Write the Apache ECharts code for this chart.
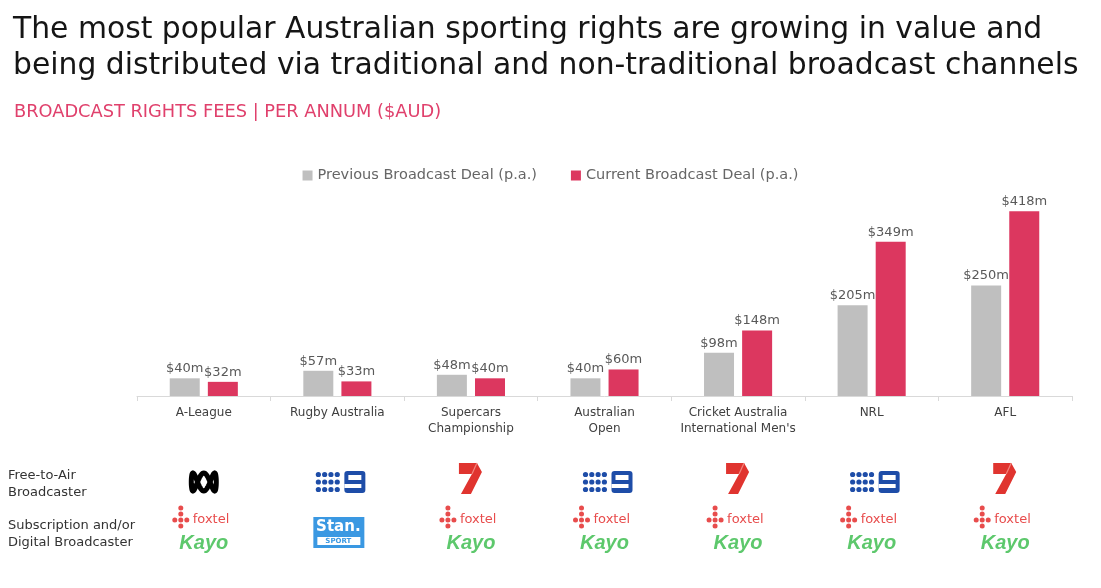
<!DOCTYPE html>
<html><head><meta charset="utf-8">
<script src="https://cdn.jsdelivr.net/npm/echarts@6/dist/echarts.min.js"></script>
<style>html,body{margin:0;padding:0;background:#fff}#c{width:1101px;height:588px}</style>
</head><body><div id="c"></div>
<script>
const titleText = 'The most popular Australian sporting rights are growing in value and\nbeing distributed via traditional and non-traditional broadcast channels';
const subtitleText = 'BROADCAST RIGHTS FEES | PER ANNUM ($AUD)';
const categories = ['A-League', 'Rugby Australia', 'Supercars\nChampionship', 'Australian\nOpen', 'Cricket Australia\nInternational Men\'s', 'NRL', 'AFL'];
const previousDeal = [40, 57, 48, 40, 98, 205, 250];
const currentDeal = [32, 33, 40, 60, 148, 349, 418];
const seriesNames = ['Previous Broadcast Deal (p.a.)', 'Current Broadcast Deal (p.a.)'];
const rowLabels = ['Free-to-Air\nBroadcaster', 'Subscription and/or\nDigital Broadcaster'];
const freeToAir = ['ABC', 'Nine', 'Seven', 'Nine', 'Seven', 'Nine', 'Seven'];
const subscription = ['Foxtel/Kayo', 'Stan Sport', 'Foxtel/Kayo', 'Foxtel/Kayo', 'Foxtel/Kayo', 'Foxtel/Kayo', 'Foxtel/Kayo'];

const FONT = 'DejaVu Sans';
const GREY = '#BFBFBF', RED = '#DC375F';
const chart = echarts.init(document.getElementById('c'));

const option = {
  animation: false,
  textStyle: { fontFamily: FONT },
  title: [
    { text: titleText, left: 8, top: 7, textStyle: { fontFamily: FONT, fontSize: 29.8, fontWeight: 'normal', color: '#151515', lineHeight: 36 } },
    { text: subtitleText, left: 9, top: 98, textStyle: { fontFamily: FONT, fontSize: 17.8, fontWeight: 'normal', color: '#E0406C' } }
  ],
  legend: {
    top: 163, left: 'center', itemWidth: 10, itemHeight: 10, itemGap: 34,
    icon: 'rect',
    textStyle: { fontFamily: FONT, fontSize: 14.5, color: '#666' },
    data: seriesNames
  },
  grid: { left: 137, right: 29, top: 197, bottom: 192, containLabel: false },
  xAxis: {
    type: 'category', data: categories,
    axisLine: { lineStyle: { color: '#D9D9D9' } },
    axisTick: { show: true, length: 5, lineStyle: { color: '#D9D9D9' } },
    axisLabel: { fontFamily: FONT, fontSize: 12, color: '#404040', lineHeight: 16, margin: 9, interval: 0 }
  },
  yAxis: { type: 'value', min: 0, max: 450, show: false, splitLine: { show: false } },
  series: [
    { name: seriesNames[0], type: 'bar', data: previousDeal, barWidth: 30, barGap: '27%', itemStyle: { color: GREY },
      label: { show: true, position: 'top', distance: 3, formatter: p => '$' + p.value + 'm', fontFamily: FONT, fontSize: 13, color: '#595959' } },
    { name: seriesNames[1], type: 'bar', data: currentDeal, barWidth: 30, itemStyle: { color: RED },
      label: { show: true, position: 'top', distance: 3, formatter: p => '$' + p.value + 'm', fontFamily: FONT, fontSize: 13, color: '#595959' } }
  ]
};
chart.setOption(option);

// ---- logo helpers (decoration) ----
function abcLogo(x, y) {
  const pts = [];
  for (let i = 0; i <= 120; i++) {
    const t = i / 120 * Math.PI * 2;
    pts.push([x + 12.5 * Math.cos(t), y + 9 * Math.sin(3 * t)]);
  }
  return { type: 'polyline', shape: { points: pts }, style: { stroke: '#000', lineWidth: 5, fill: null } };
}
function nineLogo(x, y) {
  const ch = [];
  for (let r = 0; r < 3; r++) for (let c = 0; c < 4; c++) {
    ch.push({ type: 'circle', shape: { cx: x - 19 + c * 6.3, cy: y - 7.5 + r * 7.5, r: 2.6 }, style: { fill: '#1E4DA8' } });
  }
  ch.push({ type: 'rect', shape: { x: x + 7, y: y - 11, width: 21, height: 22, r: 3 }, style: { fill: '#1E4DA8' } });
  ch.push({ type: 'rect', shape: { x: x + 11, y: y - 7, width: 13, height: 5 }, style: { fill: '#fff' } });
  ch.push({ type: 'rect', shape: { x: x + 7, y: y + 2, width: 17, height: 4 }, style: { fill: '#fff' } });
  return { type: 'group', children: ch };
}
function sevenLogo(x, y) {
  return { type: 'group', children: [
    { type: 'polygon', shape: { points: [[x - 12, y - 16], [x + 6, y - 16], [x + 11, y - 7], [x + 0, y + 15], [x - 10, y + 15], [x + 1, y - 5], [x - 12, y - 5]] }, style: { fill: '#E0342F' } },
    { type: 'line', shape: { x1: x + 6, y1: y - 16, x2: x + 1, y2: y - 5 }, style: { stroke: '#F2857E', lineWidth: 1.2 } }
  ] };
}
function foxtelKayo(x, y) {
  const ch = [];
  const dx = x - 23, dy = y - 1;
  [[0, -12], [0, -6], [0, 0], [0, 6], [-6, 0], [6, 0]].forEach(d => {
    ch.push({ type: 'circle', shape: { cx: dx + d[0], cy: dy + d[1], r: 2.5 }, style: { fill: '#E84C4C' } });
  });
  ch.push({ type: 'text', style: { text: 'foxtel', x: x - 11, y: y - 1, fontFamily: FONT, fontSize: 13, fill: '#E84C4C', verticalAlign: 'middle', align: 'left' } });
  ch.push({ type: 'text', style: { text: 'Kayo', x: x, y: y + 22, fontFamily: 'Liberation Sans Narrow, Liberation Sans', fontSize: 20, fontWeight: 'bold', fontStyle: 'italic', fill: '#5DC86C', verticalAlign: 'middle', align: 'center' } });
  return { type: 'group', children: ch };
}
function stanLogo(x, y) {
  return { type: 'group', children: [
    { type: 'rect', shape: { x: x - 24, y: y - 3, width: 51, height: 31 }, style: { fill: '#3A98E2' } },
    { type: 'text', style: { text: 'Stan.', x: x + 1, y: y + 7, fontFamily: FONT, fontSize: 15, fontWeight: 'bold', fill: '#fff', align: 'center', verticalAlign: 'middle' } },
    { type: 'rect', shape: { x: x - 20, y: y + 17, width: 43, height: 8 }, style: { fill: '#fff' } },
    { type: 'text', style: { text: 'SPORT', x: x + 1, y: y + 21.5, fontFamily: FONT, fontSize: 7, fontWeight: 'bold', fill: '#3A98E2', align: 'center', verticalAlign: 'middle' } }
  ] };
}

const graphics = [];
rowLabels.forEach((t, i) => {
  graphics.push({ type: 'text', left: 8, top: 467 + i * 50, style: { text: t, fontFamily: FONT, fontSize: 13, fill: '#333', lineHeight: 17 } });
});
categories.forEach((c, i) => {
  const x = chart.convertToPixel({ xAxisIndex: 0 }, i);
  const f = freeToAir[i];
  if (f === 'ABC') graphics.push(abcLogo(x, 482));
  else if (f === 'Nine') graphics.push(nineLogo(x, 482));
  else graphics.push(sevenLogo(x, 479));
  const s = subscription[i];
  if (s === 'Stan Sport') graphics.push(stanLogo(x, 520));
  else graphics.push(foxtelKayo(x, 521));
});
chart.setOption({ graphic: graphics });
</script></body></html>
